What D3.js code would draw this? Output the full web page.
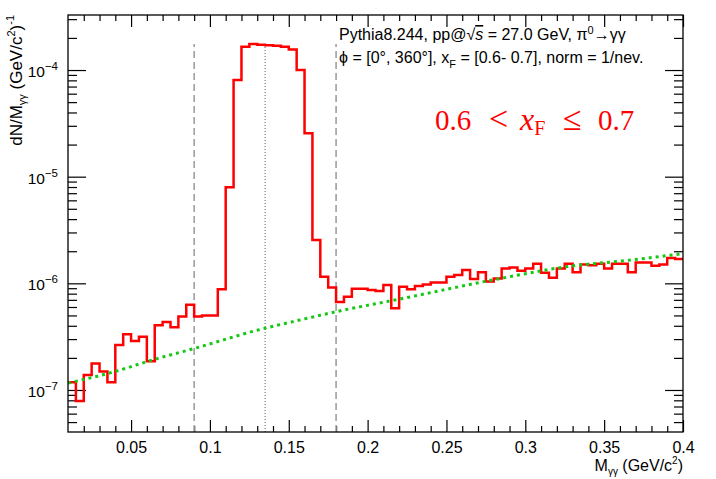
<!DOCTYPE html>
<html>
<head>
<meta charset="utf-8">
<script src="https://cdn.jsdelivr.net/npm/d3@7"></script>
<style>
  body { margin: 0; background: #fff; }
  svg { font-family: "Liberation Sans", Arial, sans-serif; }
</style>
</head>
<body>
<div id="chart"></div>
<script>
// histogram: bins of 0.005 GeV/c^2 starting at 0.01
const binWidth = 0.005;
const binStart = 0.01;
const counts = [
  1.18e-7, 7.9e-8, 1.38e-7, 1.77e-7, 1.49e-7, 1.18e-7, 2.64e-7, 3.33e-7, 2.88e-7, 3.16e-7,
  1.86e-7, 4.04e-7, 4.34e-7, 3.87e-7, 4.88e-7, 6.31e-7, 4.88e-7, 5.0e-7, 5.0e-7, 8.8e-7,
  7.94e-6, 8.06e-5, 1.65e-4, 1.75e-4, 1.73e-4, 1.71e-4, 1.69e-4, 1.65e-4, 1.56e-4, 1.0e-4,
  2.55e-5, 2.55e-6, 1.15e-6, 9.16e-7,
  6.68e-7, 7.5e-7, 8.91e-7, 8.91e-7, 8.67e-7, 8.48e-7, 9.64e-7, 5.83e-7, 9.3e-7, 8.79e-7,
  9.44e-7, 9.73e-7, 1.02e-6, 1.02e-6, 1.15e-6, 1.2e-6, 1.33e-6, 1.1e-6, 1.27e-6, 1.04e-6,
  1.11e-6, 1.38e-6, 1.41e-6, 1.31e-6, 1.38e-6, 1.53e-6, 1.26e-6, 1.13e-6, 1.38e-6, 1.53e-6,
  1.27e-6, 1.5e-6, 1.48e-6, 1.53e-6, 1.38e-6, 1.53e-6, 1.53e-6, 1.27e-6, 1.57e-6, 1.57e-6,
  1.46e-6, 1.5e-6, 1.73e-6, 1.69e-6
];

// background fit (green dotted curve)
const fitMass = [0.01, 0.0398, 0.065, 0.0905, 0.1305, 0.157, 0.18, 0.2205, 0.284, 0.326, 0.368, 0.4];
const fitValue = [1.16e-7, 1.49e-7, 1.94e-7, 2.46e-7, 3.65e-7, 4.53e-7, 5.42e-7, 7.13e-7, 1.11e-6, 1.43e-6, 1.66e-6, 1.9e-6];

// window lines
const windowEdges = [0.09, 0.18];
const pionMass = 0.135;

const xMajor = [0.05, 0.1, 0.15, 0.2, 0.25, 0.3, 0.35, 0.4];
const yDecades = [-7, -6, -5, -4];

const width = 716, height = 479;
const margin = { top: 15, right: 33, bottom: 47, left: 68 };

const svg = d3.select("#chart").append("svg")
    .attr("width", width)
    .attr("height", height);

const x = d3.scaleLinear()
    .domain([0.01, 0.4])
    .range([margin.left, width - margin.right]);

const y = d3.scaleLog()
    .domain([Math.pow(10, -7.394), Math.pow(10, -3.484)])
    .range([height - margin.bottom, margin.top]);

const x0 = margin.left, x1 = width - margin.right;
const y0 = height - margin.bottom, y1 = margin.top;

// minor ticks
const xMinor = d3.range(1, 40).map(i => +(i * 0.01).toFixed(2)).filter(v => xMajor.indexOf(v) < 0 && v > 0.01);
const yMinor = [];
for (let e = -8; e <= -4; e++) {
    for (let m = 2; m <= 9; m++) {
        const v = m * Math.pow(10, e);
        if (v > y.domain()[0] && v < y.domain()[1]) yMinor.push(v);
    }
}
const yMajor = yDecades.map(e => Math.pow(10, e));

function styleAxis(g) {
    g.select(".domain").remove();
    g.selectAll(".tick line").attr("stroke", "#000").attr("stroke-width", 1.2);
}

// bottom axis
svg.append("g")
    .attr("transform", `translate(0,${y0})`)
    .call(d3.axisBottom(x).tickValues(xMajor).tickSize(-12).tickPadding(10).tickFormat(d => d3.format("")(d)))
    .call(styleAxis)
    .call(g => g.selectAll("text").attr("font-size", 16).attr("fill", "#000")
        .attr("font-family", "Liberation Sans, Arial, sans-serif"));
svg.append("g")
    .attr("transform", `translate(0,${y0})`)
    .call(d3.axisBottom(x).tickValues(xMinor).tickSize(-6).tickFormat(""))
    .call(styleAxis);

// top axis
svg.append("g")
    .attr("transform", `translate(0,${y1})`)
    .call(d3.axisTop(x).tickValues(xMajor).tickSize(-12).tickFormat(""))
    .call(styleAxis);
svg.append("g")
    .attr("transform", `translate(0,${y1})`)
    .call(d3.axisTop(x).tickValues(xMinor).tickSize(-6).tickFormat(""))
    .call(styleAxis);

// left axis
svg.append("g")
    .attr("transform", `translate(${x0},0)`)
    .call(d3.axisLeft(y).tickValues(yMajor).tickSize(-18).tickFormat(""))
    .call(styleAxis);
svg.append("g")
    .attr("transform", `translate(${x0},0)`)
    .call(d3.axisLeft(y).tickValues(yMinor).tickSize(-9).tickFormat(""))
    .call(styleAxis);

// right axis
svg.append("g")
    .attr("transform", `translate(${x1},0)`)
    .call(d3.axisRight(y).tickValues(yMajor).tickSize(-18).tickFormat(""))
    .call(styleAxis);
svg.append("g")
    .attr("transform", `translate(${x1},0)`)
    .call(d3.axisRight(y).tickValues(yMinor).tickSize(-9).tickFormat(""))
    .call(styleAxis);

// y tick labels 10^n
yDecades.forEach(e => {
    const t = svg.append("text")
        .attr("x", x0 - 10)
        .attr("y", y(Math.pow(10, e)) + 7)
        .attr("text-anchor", "end")
        .attr("font-size", 15.5);
    t.append("tspan").text("10");
    t.append("tspan").attr("dy", -7).attr("font-size", 11.5).text("\u2212" + Math.abs(e));
});

// window lines
svg.append("g").selectAll("line")
    .data(windowEdges)
    .join("line")
    .attr("x1", d => x(d)).attr("x2", d => x(d))
    .attr("y1", y0).attr("y2", y(d3.max(counts)))
    .attr("stroke", "#999")
    .attr("stroke-width", 1.5)
    .attr("stroke-dasharray", "7,4");

svg.append("line")
    .attr("x1", x(pionMass)).attr("x2", x(pionMass))
    .attr("y1", y0).attr("y2", y(d3.max(counts)))
    .attr("stroke", "#333")
    .attr("stroke-width", 0.8)
    .attr("stroke-dasharray", "1,2");

// histogram as step path
const pts = [];
counts.forEach((c, i) => {
    const lo = binStart + i * binWidth;
    pts.push([lo, c], [lo + binWidth, c]);
});
svg.append("path")
    .datum(pts)
    .attr("fill", "none")
    .attr("stroke", "#ff0000")
    .attr("stroke-width", 2.5)
    .attr("stroke-linejoin", "miter")
    .attr("d", d3.line().x(d => x(d[0])).y(d => y(d[1])));

// fit curve
svg.append("path")
    .datum(fitMass.map((m, i) => [m, fitValue[i]]))
    .attr("fill", "none")
    .attr("stroke", "#14c814")
    .attr("stroke-width", 3)
    .attr("stroke-dasharray", "3,4")
    .attr("d", d3.line().curve(d3.curveMonotoneX).x(d => x(d[0])).y(d => y(d[1])));

// frame
svg.append("rect")
    .attr("x", x0).attr("y", y1)
    .attr("width", x1 - x0).attr("height", y0 - y1)
    .attr("fill", "none")
    .attr("stroke", "#000")
    .attr("stroke-width", 1.3);

// info text
const line1 = svg.append("text").attr("x", 339).attr("y", 40).attr("font-size", 16);
line1.append("tspan").text("Pythia8.244, pp@\u221A");
line1.append("tspan").attr("font-style", "italic").style("text-decoration", "overline").text("s");
line1.append("tspan").text(" = 27.0 GeV, \u03C0");
line1.append("tspan").attr("dy", -6).attr("font-size", 11).text("0");
line1.append("tspan").attr("dy", 6).text("\u2192\u03B3\u03B3");

const line2 = svg.append("text").attr("x", 339).attr("y", 63).attr("font-size", 16);
line2.append("tspan").text("\u03D5 = [0\u00B0, 360\u00B0], x");
line2.append("tspan").attr("dy", 5).attr("font-size", 11).text("F");
line2.append("tspan").attr("dy", -5).text(" = [0.6- 0.7], norm = 1/nev.");

// red range label
const rl = svg.append("text")
    .attr("y", 130)
    .attr("fill", "#ff0000")
    .attr("font-family", "Liberation Serif, DejaVu Serif, serif")
    .attr("font-size", 29);
rl.append("tspan").attr("x", 435).text("0.6");
rl.append("tspan").attr("x", 489).attr("font-size", 34).text("<");
rl.append("tspan").attr("x", 520).attr("font-style", "italic").attr("font-size", 32).text("x");
rl.append("tspan").attr("dy", 5).attr("font-size", 20).text("F");
rl.append("tspan").attr("x", 563).attr("dy", -5).attr("font-size", 34).text("\u2264");
rl.append("tspan").attr("x", 598).text("0.7");

// axis titles
const yt = svg.append("text")
    .attr("transform", `translate(22,${y1}) rotate(-90)`)
    .attr("text-anchor", "end")
    .attr("font-size", 17);
yt.append("tspan").text("dN/M");
yt.append("tspan").attr("dy", 4).attr("font-size", 11).text("\u03B3\u03B3");
yt.append("tspan").attr("dy", -4).text(" (GeV/c");
yt.append("tspan").attr("dy", -7).attr("font-size", 11).text("2");
yt.append("tspan").attr("dy", 7).text(")");
yt.append("tspan").attr("dy", -8).attr("font-size", 11).text("-1");

const xt = svg.append("text")
    .attr("x", x1).attr("y", 471)
    .attr("text-anchor", "end")
    .attr("font-size", 16);
xt.append("tspan").text("M");
xt.append("tspan").attr("dy", 4).attr("font-size", 10).text("\u03B3\u03B3");
xt.append("tspan").attr("dy", -4).text(" (GeV/c");
xt.append("tspan").attr("dy", -7).attr("font-size", 10).text("2");
xt.append("tspan").attr("dy", 7).text(")");
</script>
</body>
</html>
